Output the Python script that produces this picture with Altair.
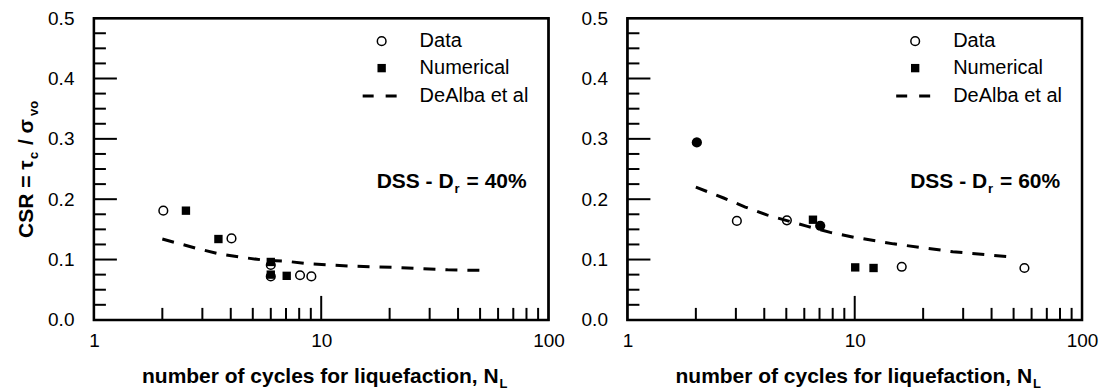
import altair as alt
import pandas as pd

# ---------------- data ----------------
# Panel 1: DSS - Dr = 40%
x40_data = [2.02, 4.03, 6.0, 6.0, 8.07, 9.05]
y40_data = [0.181, 0.135, 0.091, 0.072, 0.074, 0.072]
x40_num = [2.54, 3.53, 6.0, 6.0, 7.05]
y40_num = [0.181, 0.134, 0.096, 0.075, 0.073]
x40_fit = [2.0, 2.8, 3.5, 4.4, 5.6, 7.1, 8.7, 13.5, 21.0, 36.0, 51.0]
y40_fit = [0.134, 0.119, 0.110, 0.104, 0.099, 0.097, 0.093, 0.089, 0.087, 0.083, 0.082]

# Panel 2: DSS - Dr = 60%
x60_data = [3.03, 5.03, 16.1, 55.8]
y60_data = [0.164, 0.165, 0.088, 0.086]
x60_num = [6.55, 10.05, 12.1]
y60_num = [0.166, 0.087, 0.086]
x60_solid = [2.02, 7.05]
y60_solid = [0.294, 0.156]
x60_fit = [2.0, 2.65, 3.3, 4.1, 6.2, 7.8, 9.9, 14.8, 27.0, 50.0]
y60_fit = [0.220, 0.202, 0.187, 0.174, 0.155, 0.145, 0.137, 0.126, 0.113, 0.104]

legend_labels = ["Data", "Numerical", "DeAlba et al"]
x_tick_labels = [1, 10, 100]
y_tick_labels = [0.0, 0.1, 0.2, 0.3, 0.4, 0.5]
x_minor_ticks = [2, 3, 4, 5, 6, 7, 8, 9, 20, 30, 40, 50, 60, 70, 80, 90]
x_major_ticks = [10]
y_major_ticks = [0.1, 0.2, 0.3, 0.4]
y_minor_ticks = [round(k * 0.025, 3) for k in range(1, 20) if k % 4 != 0]
x_range = [1, 100]
y_range = [0.0, 0.5]

# ---------------- styling ----------------
W, H = 455, 302
FONT = "Liberation Sans"
xscale = alt.Scale(type="log", domain=x_range, nice=False)
yscale = alt.Scale(domain=y_range, nice=False, zero=False)
xaxis = alt.Axis(values=x_tick_labels, format="d", labelFont=FONT, labelFontSize=19,
                 labelColor="black", ticks=False, tickSize=0, domain=False, grid=False,
                 labelPadding=12, labelFlush=False, labelOverlap=False, title=None)
yaxis = alt.Axis(values=y_tick_labels, format=".1f", labelFont=FONT, labelFontSize=19,
                 labelColor="black", ticks=False, tickSize=0, domain=False, grid=False,
                 labelPadding=20, labelOverlap=False, title=None)


def X(f):
    return alt.X(f, type="quantitative", scale=xscale, axis=xaxis)


def Y(f):
    return alt.Y(f, type="quantitative", scale=yscale, axis=yaxis)


def txt(s, x, y, size, bold=False, align="left", angle=0, baseline="alphabetic"):
    kw = dict(font=FONT, fontSize=size, color="black", align=align, baseline=baseline,
              fontWeight="bold" if bold else "normal")
    if angle:
        kw["angle"] = angle
    return alt.Chart(pd.DataFrame({"t": [s]})).mark_text(**kw).encode(
        text="t:N", x=alt.value(x), y=alt.value(y))


def panel(xd, yd, xn, yn, xf, yf, dr_label, show_ytitle, xs=None, ys=None):
    # frame drawn through the scales
    frame = alt.Chart(pd.DataFrame({"x": [x_range[0]], "x2": [x_range[1]],
                                    "y": [y_range[0]], "y2": [y_range[1]]})).mark_rect(
        fill="white", fillOpacity=0, stroke="black", strokeWidth=2.5).encode(
        x=X("x"), x2="x2:Q", y=Y("y"), y2="y2:Q")

    fit = alt.Chart(pd.DataFrame({"x": xf, "y": yf})).mark_line(
        color="black", strokeWidth=3, strokeDash=[12, 10]).encode(x=X("x"), y=Y("y"))

    data_pts = alt.Chart(pd.DataFrame({"x": xd, "y": yd})).mark_point(
        shape="circle", filled=False, stroke="black", strokeWidth=1.5, size=75, opacity=1).encode(
        x=X("x"), y=Y("y"))

    num_pts = alt.Chart(pd.DataFrame({"x": xn, "y": yn})).mark_square(
        color="black", size=70, opacity=1).encode(x=X("x"), y=Y("y"))

    layers = [frame, fit, data_pts, num_pts]
    if xs:
        solid = alt.Chart(pd.DataFrame({"x": xs, "y": ys})).mark_circle(
            color="black", size=105, opacity=1).encode(x=X("x"), y=Y("y"))
        layers.append(solid)

    # inward ticks
    xt_minor = alt.Chart(pd.DataFrame({"x": x_minor_ticks})).mark_rule(color="black", strokeWidth=2).encode(
        x=X("x"), y=alt.value(H), y2=alt.value(H - 12))
    xt_major = alt.Chart(pd.DataFrame({"x": x_major_ticks})).mark_rule(color="black", strokeWidth=2).encode(
        x=X("x"), y=alt.value(H), y2=alt.value(H - 24))
    yt_minor = alt.Chart(pd.DataFrame({"y": y_minor_ticks})).mark_rule(color="black", strokeWidth=2).encode(
        y=Y("y"), x=alt.value(0), x2=alt.value(12))
    yt_major = alt.Chart(pd.DataFrame({"y": y_major_ticks})).mark_rule(color="black", strokeWidth=2).encode(
        y=Y("y"), x=alt.value(0), x2=alt.value(23))
    layers += [xt_minor, xt_major, yt_minor, yt_major]

    # legend (inside, upper right)
    lx_sym, lx_txt = 288, 326
    rows = [23, 50, 78]
    leg_circle = alt.Chart(pd.DataFrame({"t": [legend_labels[0]]})).mark_point(
        shape="circle", filled=False, stroke="black", strokeWidth=1.5, size=75, opacity=1).encode(
        x=alt.value(lx_sym), y=alt.value(rows[0]))
    leg_square = alt.Chart(pd.DataFrame({"t": [legend_labels[1]]})).mark_square(
        color="black", size=70, opacity=1).encode(x=alt.value(lx_sym), y=alt.value(rows[1]))
    leg_line = alt.Chart(pd.DataFrame({"t": [legend_labels[2]]})).mark_rule(
        color="black", strokeWidth=3, strokeDash=[11, 12]).encode(
        x=alt.value(269), x2=alt.value(303), y=alt.value(rows[2]))
    layers += [leg_circle, leg_square, leg_line]
    for lab, ry in zip(legend_labels, rows):
        layers.append(txt(lab, lx_txt, ry, 20, baseline="middle"))

    # annotation  DSS - D_r = xx%
    ay = 170
    layers.append(txt("DSS - D", 360, ay, 21, bold=True, align="right"))
    layers.append(txt("r", 361, ay + 5, 13, bold=True))
    layers.append(txt("= " + dr_label, 373, ay, 21, bold=True))

    # x title with subscript
    layers.append(txt("number of cycles for liquefaction, N", 405, 365, 21, bold=True, align="right"))
    layers.append(txt("L", 406, 370, 13, bold=True))

    if show_ytitle:
        bx = -61
        layers.append(txt("CSR = \u03c4", bx, 220, 21, bold=True, angle=270))
        layers.append(txt("c", bx + 5, 141, 13, bold=True, angle=270))
        layers.append(txt("/ \u03c3", bx, 127, 21, bold=True, angle=270))
        layers.append(txt("vo", bx + 5, 98, 13, bold=True, angle=270))

    return alt.layer(*layers).properties(width=W, height=H)


left = panel(x40_data, y40_data, x40_num, y40_num, x40_fit, y40_fit, "40%", True)
right = panel(x60_data, y60_data, x60_num, y60_num, x60_fit, y60_fit, "60%", False,
              x60_solid, y60_solid)

chart = alt.hconcat(left, right, spacing=79, bounds="flush").configure_view(
    stroke="black", strokeWidth=2).properties(
    padding={"left": 15, "top": 8, "right": 5, "bottom": 5}, background="white")

chart.save("out.html", embed_options={"renderer": "svg", "actions": False})
